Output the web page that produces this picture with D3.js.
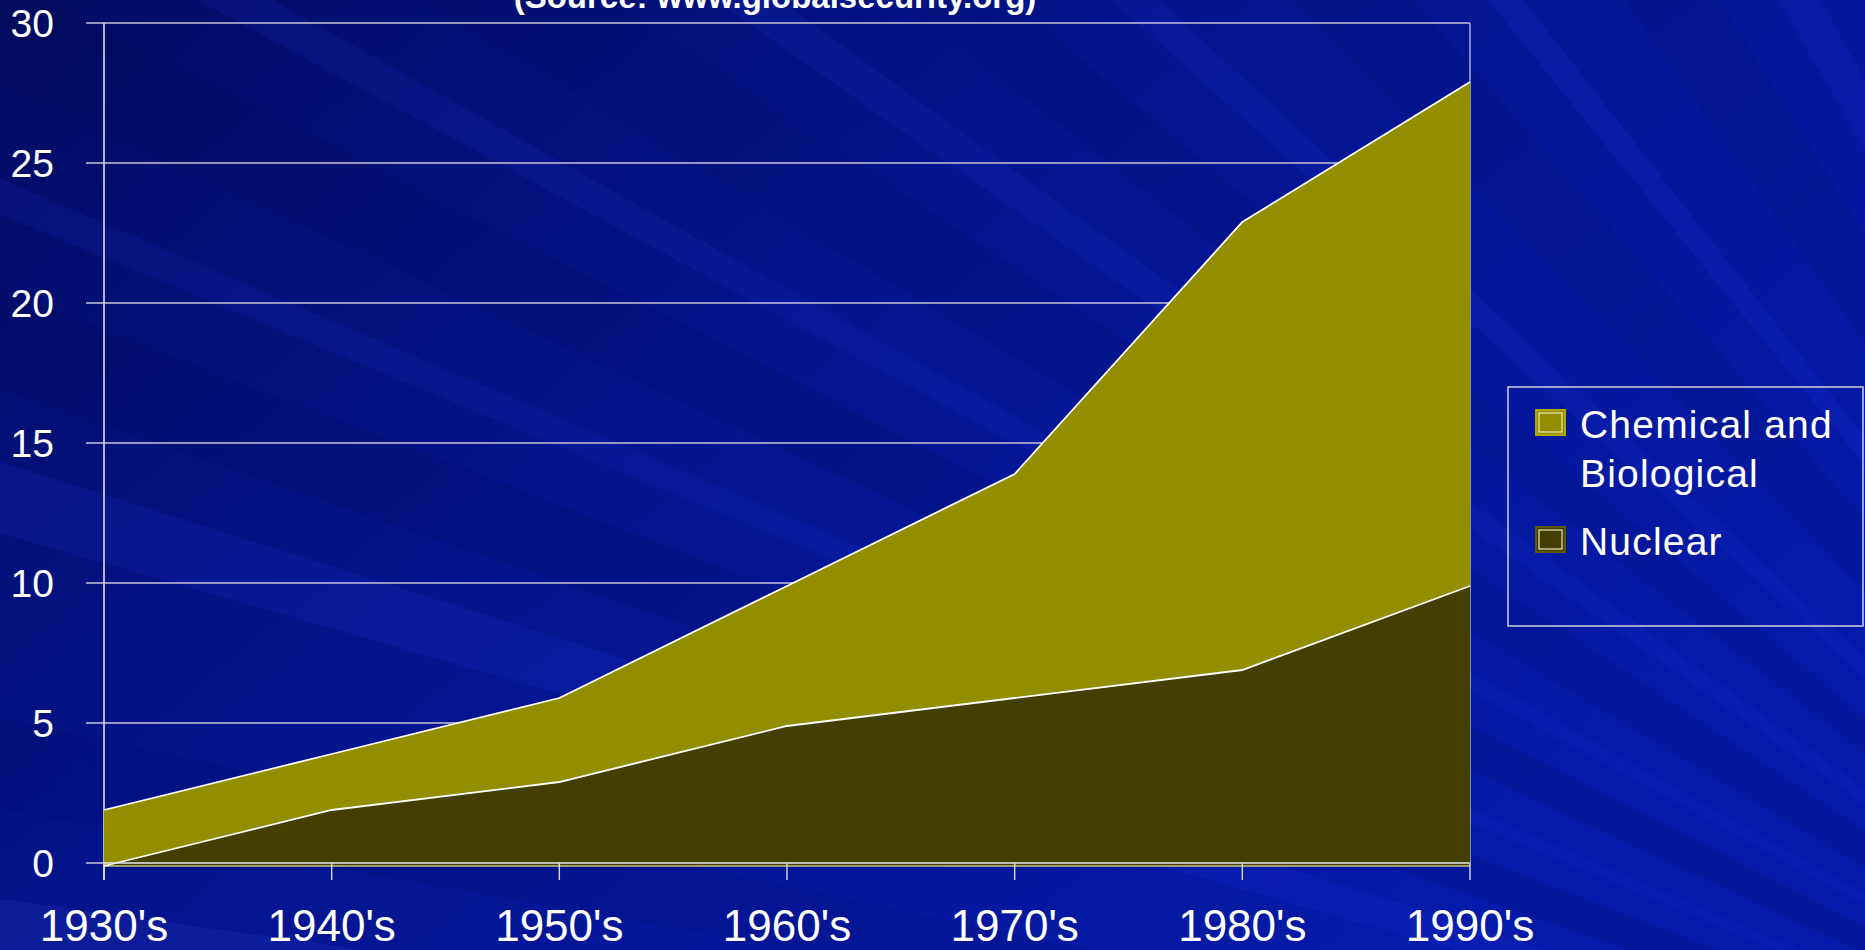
<!DOCTYPE html>
<html>
<head>
<meta charset="utf-8">
<script src="https://cdn.jsdelivr.net/npm/d3@7"></script>
<style>
    html, body { margin: 0; padding: 0; background: #03127f; overflow: hidden; }
    text { font-family: "Liberation Sans", Arial, sans-serif; fill: #ffffff; }
</style>
</head>
<body>
<svg id="chart" width="1865" height="950"></svg>
<script>

var decades = ["1930's", "1940's", "1950's", "1960's", "1970's", "1980's", "1990's"];
var nuclear = [0, 2, 3, 5, 6, 7, 10];
var chemBio = [2, 2, 3, 5, 8, 16, 18];
var yTicks = [0, 5, 10, 15, 20, 25, 30];
var seriesNames = ['Chemical and Biological', 'Nuclear'];
var sourceText = '(Source: www.globalsecurity.org)';

var config = {
    left: 104, right: 1470, top: 23, bottom: 863,
    chemColor: '#938e00', nucColor: '#423f00'
};

var svg = d3.select('#chart');
var defs = svg.append('defs');

// background: dark navy in upper-left to brighter blue on the right
var bg = defs.append('linearGradient')
    .attr('id', 'bg')
    .attr('x1', 0).attr('y1', 0).attr('x2', 1).attr('y2', 0.6);
bg.append('stop').attr('offset', '0%').attr('stop-color', '#020c62');
bg.append('stop').attr('offset', '45%').attr('stop-color', '#03148c');
bg.append('stop').attr('offset', '100%').attr('stop-color', '#051aa8');

svg.append('rect')
    .attr('width', 1865).attr('height', 950)
    .attr('fill', 'url(#bg)');

// faint rays fanning out from beyond the lower right corner
var focus = [2500, 1250];
var rayAngles = [
    [196, 197.5, '#3040ff', 0.12], [199, 201, '#000540', 0.12],
    [202.5, 203.2, '#3040ff', 0.1], [205, 207, '#000540', 0.12],
    [208.5, 209.3, '#3040ff', 0.1], [211, 213.5, '#000540', 0.1],
    [215, 216, '#3040ff', 0.1], [218, 220, '#000540', 0.1],
    [222, 223, '#3040ff', 0.1], [226, 229, '#000540', 0.1],
    [231, 232, '#3040ff', 0.12], [235, 238, '#000540', 0.1],
    [240, 241.5, '#3040ff', 0.1], [186, 188, '#6070ff', 0.1],
    [190, 192, '#000540', 0.08]
];
svg.append('g')
    .selectAll('path')
    .data(rayAngles)
    .enter()
    .append('path')
    .attr('d', function(r) {
        var a0 = r[0] * Math.PI / 180, a1 = r[1] * Math.PI / 180, R = 4000;
        return 'M' + focus[0] + ',' + focus[1] +
            'L' + (focus[0] + R * Math.cos(a0)) + ',' + (focus[1] + R * Math.sin(a0)) +
            'L' + (focus[0] + R * Math.cos(a1)) + ',' + (focus[1] + R * Math.sin(a1)) + 'Z';
    })
    .attr('fill', function(r) { return r[2]; })
    .attr('opacity', function(r) { return r[3]; });

var x = d3.scalePoint()
    .domain(decades)
    .range([config.left, config.right]);

var y = d3.scaleLinear()
    .domain([0, 30])
    .range([config.bottom, config.top]);

// gridlines
svg.append('g')
    .selectAll('line')
    .data(yTicks)
    .enter()
    .append('line')
    .attr('x1', config.left - 18)
    .attr('x2', config.right)
    .attr('y1', function(d) { return y(d); })
    .attr('y2', function(d) { return y(d); })
    .attr('stroke', '#c4c6dc')
    .attr('stroke-width', 1.6);

// plot frame on left and right
svg.append('line')
    .attr('x1', config.left).attr('x2', config.left)
    .attr('y1', config.top).attr('y2', config.bottom + 17)
    .attr('stroke', '#dcdcec').attr('stroke-width', 1.6);
svg.append('line')
    .attr('x1', config.right).attr('x2', config.right)
    .attr('y1', config.top).attr('y2', config.bottom)
    .attr('stroke', '#b8bad4').attr('stroke-width', 1.4);

// stacked areas
var rows = decades.map(function(d, i) {
    return {decade: d, nuclear: nuclear[i], chem: chemBio[i]};
});
var stack = d3.stack().keys(['nuclear', 'chem'])(rows);

var area = d3.area()
    .x(function(d) { return x(d.data.decade); })
    .y0(function(d) { return y(d[0]); })
    .y1(function(d) { return y(d[1]); });

var topLine = d3.line()
    .x(function(d) { return x(d.data.decade); })
    .y(function(d) { return y(d[1]); });

var areas = svg.append('g').attr('transform', 'translate(0,3)');

areas.selectAll('.area')
    .data(stack)
    .enter()
    .append('path')
    .attr('class', 'area')
    .attr('d', area)
    .attr('fill', function(s) { return s.key == 'chem' ? config.chemColor : config.nucColor; });

areas.append('line')
    .attr('x1', config.left).attr('x2', config.right)
    .attr('y1', y(0)).attr('y2', y(0))
    .attr('stroke', '#c8c27a').attr('stroke-width', 1.4);

areas.selectAll('.edge')
    .data(stack)
    .enter()
    .append('path')
    .attr('class', 'edge')
    .attr('d', topLine)
    .attr('fill', 'none')
    .attr('stroke', '#ffffff')
    .attr('stroke-width', 1.8);

// x axis line and ticks
svg.append('line')
    .attr('x1', config.left).attr('x2', config.right)
    .attr('y1', y(0)).attr('y2', y(0))
    .attr('stroke', '#e8e8f4').attr('stroke-width', 1.6);

svg.append('g')
    .selectAll('line')
    .data(decades)
    .enter()
    .append('line')
    .attr('x1', function(d) { return x(d); })
    .attr('x2', function(d) { return x(d); })
    .attr('y1', y(0))
    .attr('y2', y(0) + 17)
    .attr('stroke', '#dcdcec')
    .attr('stroke-width', 1.4);

svg.append('g')
    .selectAll('text')
    .data(decades)
    .enter()
    .append('text')
    .attr('x', function(d) { return x(d); })
    .attr('y', 941)
    .attr('text-anchor', 'middle')
    .attr('font-size', 44)
    .text(_ => _);

// y labels
svg.append('g')
    .selectAll('text')
    .data(yTicks)
    .enter()
    .append('text')
    .attr('x', 54)
    .attr('y', function(d) { return y(d) + 14; })
    .attr('text-anchor', 'end')
    .attr('font-size', 39)
    .text(function(d) { return d; });

// source line, cut off by the top edge
svg.append('text')
    .attr('x', 775)
    .attr('y', 8)
    .attr('text-anchor', 'middle')
    .attr('font-size', 33)
    .attr('font-weight', 'bold')
    .text(sourceText);

// legend
var legend = svg.append('g');
legend.append('rect')
    .attr('x', 1508).attr('y', 387)
    .attr('width', 355).attr('height', 239)
    .attr('fill', 'none')
    .attr('stroke', '#c4c6dc').attr('stroke-width', 1.6);

var items = [
    {name: seriesNames[0], color: config.chemColor, border: '#b0a800', y: 410, lines: ['Chemical and', 'Biological']},
    {name: seriesNames[1], color: config.nucColor, border: '#5c5800', y: 527, lines: ['Nuclear']}
];

var entries = legend.selectAll('.entry')
    .data(items)
    .enter()
    .append('g')
    .attr('class', 'entry');

entries.append('rect')
    .attr('x', 1536).attr('y', function(d) { return d.y; })
    .attr('width', 29).attr('height', 25)
    .attr('fill', function(d) { return d.color; })
    .attr('stroke', function(d) { return d.border; })
    .attr('stroke-width', 2);
entries.append('rect')
    .attr('x', 1539).attr('y', function(d) { return d.y + 3; })
    .attr('width', 23).attr('height', 19)
    .attr('fill', 'none')
    .attr('stroke', '#e8e6c0')
    .attr('stroke-width', 1.2);

entries.each(function(d) {
    var t = d3.select(this).append('text')
        .attr('x', 1580)
        .attr('y', d.y + 28)
        .attr('font-size', 39)
        .attr('letter-spacing', 1.2);
    d.lines.forEach(function(l, i) {
        t.append('tspan')
            .attr('x', 1580)
            .attr('dy', i == 0 ? 0 : 49)
            .text(l);
    });
});

</script>
</body>
</html>
